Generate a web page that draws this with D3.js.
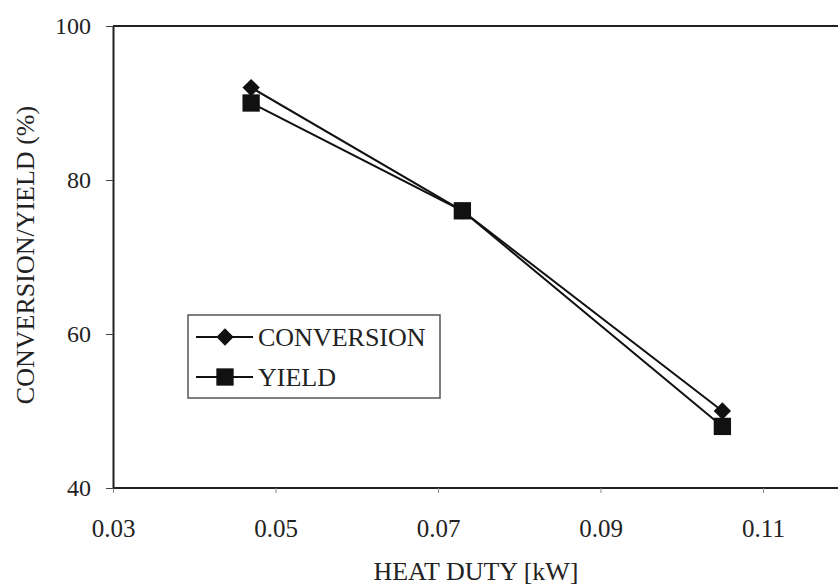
<!DOCTYPE html>
<html>
<head>
<meta charset="utf-8">
<script src="https://cdn.jsdelivr.net/npm/d3@7"></script>
<style>
  html, body { margin: 0; background: #fff; overflow: hidden; }
  svg { display: block; font-family: "Liberation Serif", "DejaVu Serif", serif; }
</style>
</head>
<body>
<svg id="chart"></svg>
<script>
let width = 838;
let height = 588;
let padLeft = 113, padTop = 26, padBottom = 488;

// data
let heatDuty = [0.047, 0.073, 0.105];
let conversion = [92, 76, 50];
let yieldVals = [90, 76, 48];
let xTicks = [0.03, 0.05, 0.07, 0.09, 0.11];
let yTicks = [40, 60, 80, 100];

let svg = d3.select('#chart').attr('width', width).attr('height', height);

let xScale = d3.scaleLinear().domain([0.03, 0.13]).range([padLeft, padLeft + 5 * 162.5]);
let yScale = d3.scaleLinear().domain([40, 100]).range([padBottom, padTop]);

// frame: top and bottom run off the right side of the page
svg.append('path')
   .attr('d', 'M' + padLeft + ',' + padTop + 'H' + (width + 10))
   .attr('stroke', '#222').attr('stroke-width', 2).attr('fill', 'none');

let xAxis = d3.axisBottom(xScale).tickValues(xTicks).tickFormat(d3.format('.2f')).tickSize(5).tickSizeOuter(0);
let gx = svg.append('g').attr('transform', 'translate(0,' + padBottom + ')').call(xAxis);
gx.attr('font-family', null).attr('font-size', null);
gx.select('.domain').attr('stroke', '#222').attr('stroke-width', 2).attr('fill', 'none')
  .attr('d', 'M' + padLeft + ',0H' + (width + 10));
gx.selectAll('.tick line').attr('stroke', '#888');
gx.selectAll('.tick text').attr('font-size', 25).attr('fill', '#222').attr('y', 49).attr('dy', null);

let yAxis = d3.axisLeft(yScale).tickValues(yTicks).tickSize(7).tickSizeOuter(0);
let gy = svg.append('g').attr('transform', 'translate(' + padLeft + ',0)').call(yAxis);
gy.attr('font-family', null).attr('font-size', null);
gy.select('.domain').attr('stroke', '#222').attr('stroke-width', 2);
gy.selectAll('.tick line').attr('stroke', '#444');
gy.selectAll('.tick text').attr('font-size', 24).attr('fill', '#222').attr('x', -22);

svg.append('text').attr('x', 476).attr('y', 580).attr('text-anchor', 'middle')
   .attr('font-size', 26).attr('fill', '#222').text('HEAT DUTY [kW]');
svg.append('text').attr('transform', 'translate(34,255) rotate(-90)').attr('text-anchor', 'middle')
   .attr('font-size', 26).attr('fill', '#222').text('CONVERSION/YIELD (%)');

let line = d3.line().x(d => xScale(d[0])).y(d => yScale(d[1]));
let convData = heatDuty.map((h, i) => [h, conversion[i]]);
let yieldData = heatDuty.map((h, i) => [h, yieldVals[i]]);

// diamond = square turned 45 degrees
let diamond = d3.symbol().type(d3.symbolSquare).size(150);
let square = d3.symbol().type(d3.symbolSquare).size(300);

let series = [[convData, diamond, 45], [yieldData, square, 0]];
series.forEach(([data, sym, rot]) => {
  svg.append('path').datum(data).attr('d', line).attr('fill', 'none')
     .attr('stroke', '#111').attr('stroke-width', 2);
  svg.selectAll(null).data(data).enter().append('path')
     .attr('d', sym)
     .attr('transform', d => 'translate(' + xScale(d[0]) + ',' + yScale(d[1]) + ') rotate(' + rot + ')')
     .attr('fill', '#111');
});

// legend
let lg = svg.append('g');
lg.append('rect').attr('x', 188).attr('y', 315).attr('width', 252).attr('height', 83)
  .attr('fill', '#fff').attr('stroke', '#555').attr('stroke-width', 1.5);
let legendItems = [['CONVERSION', diamond, 45, 337], ['YIELD', square, 0, 377]];
legendItems.forEach(([name, sym, rot, y]) => {
  lg.append('line').attr('x1', 196).attr('x2', 253).attr('y1', y).attr('y2', y)
    .attr('stroke', '#111').attr('stroke-width', 2);
  lg.append('path').attr('d', sym).attr('transform', 'translate(225,' + y + ') rotate(' + rot + ')').attr('fill', '#111');
  lg.append('text').attr('x', 258).attr('y', y + 9).attr('font-size', 26).attr('fill', '#222').text(name);
});
</script>
</body>
</html>
